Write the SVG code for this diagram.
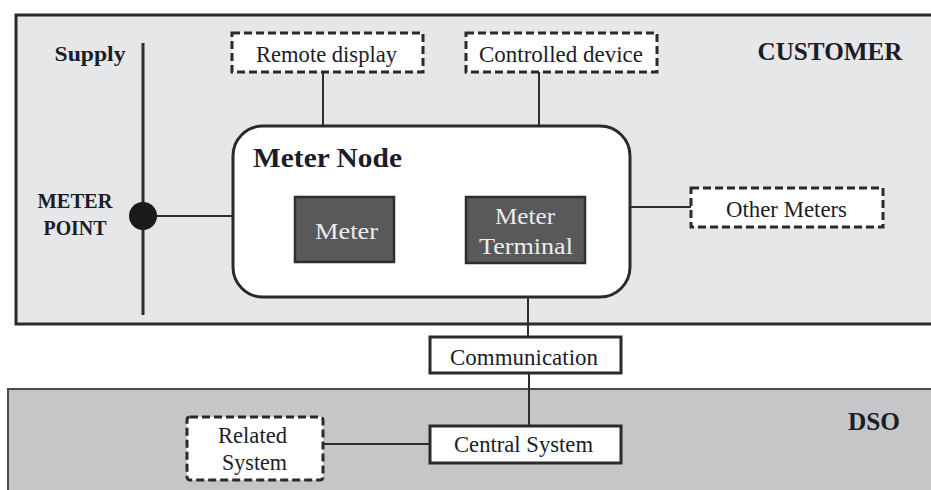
<svg xmlns="http://www.w3.org/2000/svg" width="931" height="490" viewBox="0 0 931 490">
  <style>
    .lbl { font-family: "Liberation Serif", "DejaVu Serif", serif; fill: #1c1c2a; font-size: 23px; text-anchor: middle; }
    .bold { font-weight: bold; }
    .zone { font-size: 26px; }
    .title { font-size: 27px; }
    .side { font-size: 20px; }
    .inv { fill: #ececec; }
    .dash { fill: #ffffff; stroke: #2a2a2a; stroke-width: 3; stroke-dasharray: 8 4; }
    .solid { fill: #ffffff; stroke: #2a2a2a; stroke-width: 3; }
    .dark { fill: #59595b; stroke: #2e2e2e; stroke-width: 2.5; }
    .wire { stroke: #2e2e2e; stroke-width: 2; fill: none; }
  </style>

  <!-- background zones -->
  <g id="zone-customer">
    <rect x="16" y="15" width="930" height="309" fill="#e6e7e8" stroke="#2b2b2b" stroke-width="3"/>
    <text class="lbl bold zone" x="830" y="60" textLength="145" lengthAdjust="spacingAndGlyphs">CUSTOMER</text>
  </g>
  <g id="zone-dso">
    <rect x="8" y="389" width="940" height="110" fill="#c5c6c8" stroke="#4a4a4a" stroke-width="2"/>
    <text class="lbl bold zone" x="874" y="430" textLength="52" lengthAdjust="spacingAndGlyphs">DSO</text>
  </g>

  <!-- connectors -->
  <g id="connectors">
    <line class="wire" x1="143" y1="43" x2="143" y2="315" style="stroke-width:3"/>
    <line class="wire" x1="143" y1="216" x2="233" y2="216"/>
    <line class="wire" x1="323" y1="72" x2="323" y2="126"/>
    <line class="wire" x1="539" y1="72" x2="539" y2="126"/>
    <line class="wire" x1="630" y1="207" x2="691" y2="207"/>
    <line class="wire" x1="528" y1="297" x2="528" y2="337"/>
    <line class="wire" x1="529" y1="373" x2="529" y2="426"/>
    <line class="wire" x1="323" y1="444" x2="430" y2="444"/>
  </g>

  <!-- supply line and meter point -->
  <g id="supply">
    <text class="lbl bold" x="90" y="61" style="font-size:21px" textLength="71" lengthAdjust="spacingAndGlyphs">Supply</text>
  </g>
  <g id="meter-point">
    <circle cx="143" cy="216" r="14" fill="#1a1a1a"/>
    <text class="lbl bold side" x="75" y="208" textLength="75" lengthAdjust="spacingAndGlyphs">METER</text>
    <text class="lbl bold side" x="75" y="235" textLength="63" lengthAdjust="spacingAndGlyphs">POINT</text>
  </g>

  <!-- meter node with its two parts -->
  <g id="meter-node">
    <rect x="233" y="126" width="397" height="171" rx="30" ry="30" class="solid"/>
    <text class="lbl bold title" x="327.5" y="167" textLength="149" lengthAdjust="spacingAndGlyphs">Meter Node</text>
  </g>
  <g id="meter">
    <rect x="295" y="197" width="99" height="65" class="dark"/>
    <text class="lbl inv" x="346.5" y="239" textLength="63" lengthAdjust="spacingAndGlyphs">Meter</text>
  </g>
  <g id="meter-terminal">
    <rect x="466" y="197" width="119" height="66" class="dark"/>
    <text class="lbl inv" x="525" y="224" textLength="60" lengthAdjust="spacingAndGlyphs">Meter</text>
    <text class="lbl inv" x="526" y="254" textLength="94" lengthAdjust="spacingAndGlyphs">Terminal</text>
  </g>

  <!-- optional customer-side devices -->
  <g id="remote-display">
    <rect x="232" y="33" width="191" height="39" class="dash"/>
    <text class="lbl" x="326.5" y="62" textLength="141" lengthAdjust="spacingAndGlyphs">Remote display</text>
  </g>
  <g id="controlled-device">
    <rect x="466" y="33" width="191" height="39" class="dash"/>
    <text class="lbl" x="561" y="62" textLength="164" lengthAdjust="spacingAndGlyphs">Controlled device</text>
  </g>
  <g id="other-meters">
    <rect x="691" y="188" width="192" height="39" class="dash"/>
    <text class="lbl" x="786.5" y="217" textLength="121" lengthAdjust="spacingAndGlyphs">Other Meters</text>
  </g>

  <!-- communication and DSO side -->
  <g id="communication">
    <rect x="430" y="337" width="191" height="36" class="solid"/>
    <text class="lbl" x="524" y="365" textLength="148" lengthAdjust="spacingAndGlyphs">Communication</text>
  </g>
  <g id="central-system">
    <rect x="430" y="426" width="191" height="37" class="solid"/>
    <text class="lbl" x="523.5" y="452" textLength="139" lengthAdjust="spacingAndGlyphs">Central System</text>
  </g>
  <g id="related-system">
    <rect x="187" y="417" width="136" height="63" rx="3" class="dash"/>
    <text class="lbl" x="252.5" y="443" textLength="69" lengthAdjust="spacingAndGlyphs">Related</text>
    <text class="lbl" x="254.5" y="470" textLength="65" lengthAdjust="spacingAndGlyphs">System</text>
  </g>
</svg>
